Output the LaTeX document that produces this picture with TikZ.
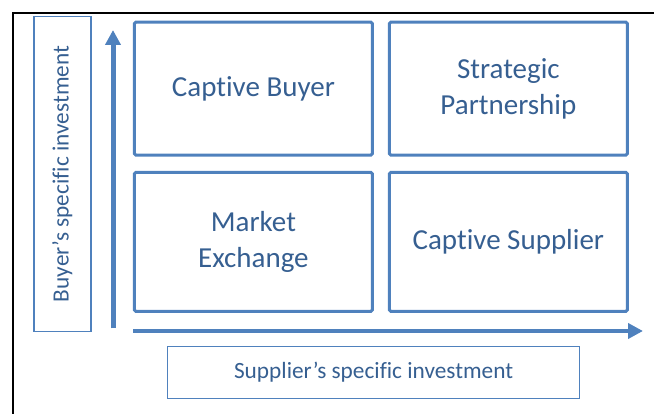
\documentclass[tikz,border=0pt]{standalone}
\usepackage{fontspec}
\setmainfont{Carlito}[Ligatures=NoCommon]
\usetikzlibrary{arrows.meta}
\definecolor{boxblue}{HTML}{4F81BD}
\definecolor{textblue}{HTML}{365F91}

\begin{document}
\begin{tikzpicture}[x=1pt,y=-1pt,
    quad/.style={draw=boxblue, line width=3pt, rounded corners=1.5pt, inner sep=0pt,
      minimum width=238pt, text=textblue, align=center,
      font=\fontsize{29}{36}\selectfont},
    axislabel/.style={draw=boxblue, line width=1.6pt, inner sep=0pt, text=textblue,
      font=\fontsize{23.3}{28}\selectfont},
    axis/.style={boxblue, line width=5pt, -{Triangle[length=15pt,width=15pt]}}]
  \useasboundingbox (0,0) rectangle (654,414);
  % outer frame
  \draw[line width=2pt] (12.7,414) -- (12.7,12.7) -- (654,12.7);
  % the four quadrants
  \node[quad, minimum height=133pt] (buyer) at (253.4,88.6) {Captive Buyer};
  \node[quad, minimum height=133pt] (partner) at (508.4,88.6) {Strategic\\Partnership};
  \node[quad, minimum height=139pt] (market) at (253.4,241.8) {Market\\Exchange};
  \node[quad, minimum height=139pt] (supplier) at (508.4,241.8) {Captive Supplier};
  % axis labels
  \node[axislabel, minimum width=412pt, minimum height=52pt] (xlabel) at (373.6,372.5) {Supplier’s specific investment};
  \node[axislabel, rotate=90, minimum width=315pt, minimum height=57pt] (ylabel) at (62.2,174) {Buyer’s specific investment};
  % axes
  \coordinate (ybase) at (113,328.5);
  \coordinate (ytip) at (113,30);
  \coordinate (xbase) at (133,331);
  \coordinate (xtip) at (643,331);
  \draw[axis] (ybase) -- (ytip);
  \draw[axis, line width=4.5pt] (xbase) -- (xtip);
\end{tikzpicture}
\end{document}
